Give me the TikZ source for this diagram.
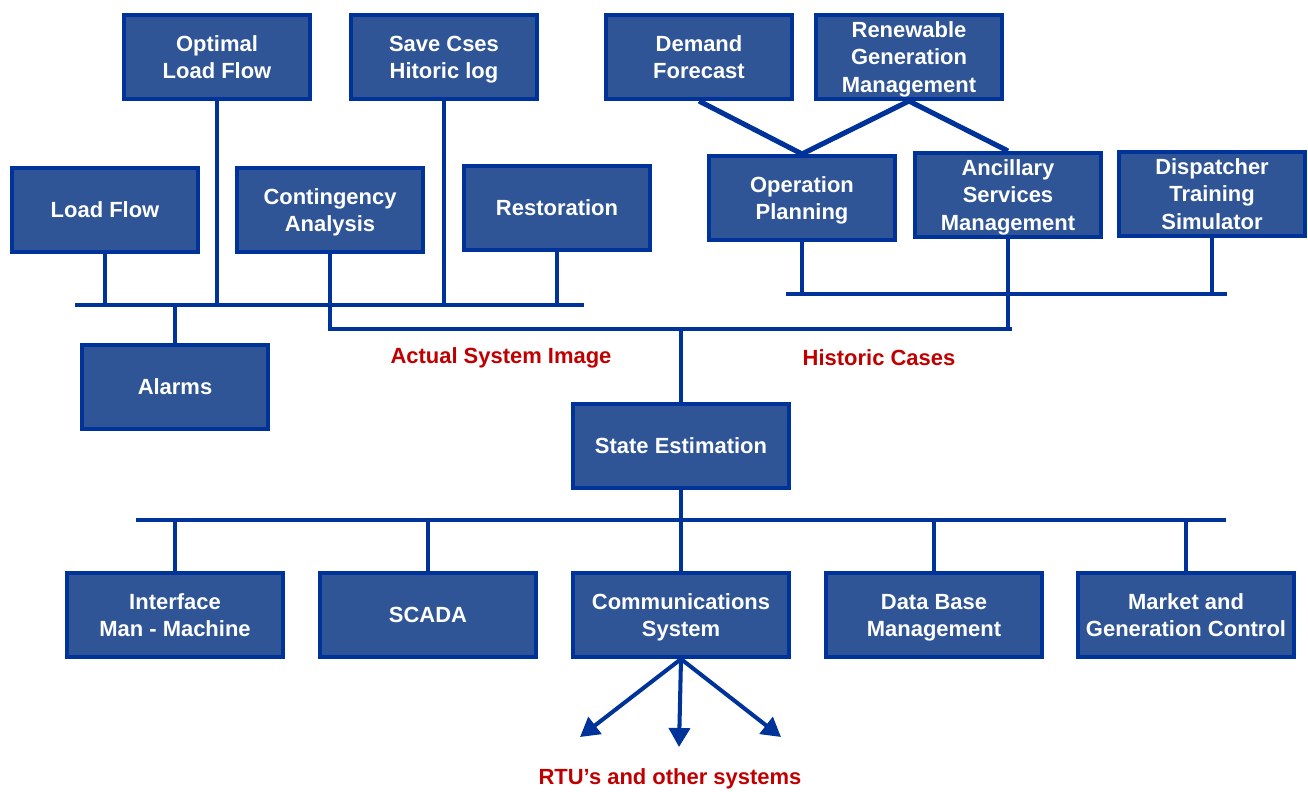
\documentclass[tikz,border=0pt]{standalone}
\usepackage{fontspec}
\setmainfont{Liberation Sans}
\usetikzlibrary{arrows.meta}
\definecolor{boxfill}{HTML}{2F5597}
\definecolor{boxline}{HTML}{003399}
\definecolor{lbl}{HTML}{C00000}
\begin{document}
\begin{tikzpicture}[x=0.02cm,y=-0.02cm,
  box/.style={draw=boxline,fill=boxfill,line width=2.3pt,minimum width=3.72cm,minimum height=1.68cm,
    align=center,text=white,font=\fontsize{12.5}{15.4}\selectfont\bfseries,inner sep=1pt,text depth=0pt},
  wbox/.style={box,minimum width=4.32cm},
  conn/.style={draw=boxline,line width=2.3pt},
  thick conn/.style={draw=boxline,line width=2.9pt},
  lab/.style={text=lbl,font=\fontsize{12.5}{15}\selectfont\bfseries}]
\useasboundingbox (0,0) rectangle (1308,791);
% boxes
\node[box] (olf) at (217,57) {Optimal\\Load Flow};
\node[box] (sch) at (444,57) {Save Cses\\Hitoric log};
\node[box] (df) at (699,57) {Demand\\Forecast};
\node[box] (rgm) at (909,57) {Renewable\\Generation\\Management};
\node[box] (lf) at (105,210) {Load Flow};
\node[box] (ca) at (330,210) {Contingency\\Analysis};
\node[box] (rs) at (557,208) {Restoration};
\node[box] (op) at (802,198) {Operation\\Planning};
\node[box] (asm) at (1008,195) {Ancillary\\Services\\Management};
\node[box] (dts) at (1212,194) {Dispatcher\\Training\\Simulator};
\node[box] (al) at (175,387) {Alarms};
\node[wbox] (se) at (681,446) {State Estimation};
\node[wbox] (imm) at (175,615) {Interface\\Man - Machine};
\node[wbox] (sc) at (428,615) {SCADA};
\node[wbox] (cs) at (681,615) {Communications\\System};
\node[wbox] (db) at (934,615) {Data Base\\Management};
\node[wbox] (mg) at (1186,615) {Market and\\Generation Control};
% labels
\node[lab] (l1) at (501,358) {Actual System Image};
\node[lab] (l2) at (879,358) {Historic Cases};
\node[lab] (l3) at (670,779) {RTU’s and other systems};
% buses
\coordinate (b1L) at (75,305);
\coordinate (b1R) at (584,305);
\coordinate (b2L) at (786,294);
\coordinate (b2R) at (1227,294);
\coordinate (b3L) at (136,520);
\coordinate (b3R) at (1226,520);
\coordinate (hist) at (1012,329);
\draw[conn] (b1L) -- (b1R);
\draw[conn] (b2L) -- (b2R);
\draw[conn] (b3L) -- (b3R);
% left group
\draw[conn] (lf.south) -- (lf.south |- b1L);
\draw[conn] (olf.south) -- (olf.south |- b1L);
\draw[conn] (sch.south) -- (sch.south |- b1L);
\draw[conn] (rs.south) -- (rs.south |- b1L);
\draw[conn] (al.north) -- (al.north |- b1L);
\draw[conn] (ca.south) -- (ca.south |- hist) -- (hist);
% right group
\draw[conn] (op.south) -- (op.south |- b2L);
\draw[conn] (dts.south) -- (dts.south |- b2L);
\draw[conn] (asm.south) -- (asm.south |- hist);
\draw[thick conn] (df.south) -- (op.north);
\draw[thick conn] (rgm.south) -- (op.north);
\draw[thick conn] (rgm.south) -- (asm.north);
% state estimation
\draw[conn] (se.north) -- (se.north |- hist);
\draw[conn] (se.south) -- (cs.north);
\draw[conn] (imm.north) -- (imm.north |- b3L);
\draw[conn] (sc.north) -- (sc.north |- b3L);
\draw[conn] (db.north) -- (db.north |- b3L);
\draw[conn] (mg.north) -- (mg.north |- b3L);
% arrows
\coordinate (a1) at (580,737);
\coordinate (a2) at (679,747);
\coordinate (a3) at (781,737);
\draw[conn,-{Triangle[length=0.38cm,width=0.42cm]}] (cs.south) -- (a1);
\draw[conn,-{Triangle[length=0.38cm,width=0.42cm]}] (cs.south) -- (a2);
\draw[conn,-{Triangle[length=0.38cm,width=0.42cm]}] (cs.south) -- (a3);
\end{tikzpicture}
\end{document}
